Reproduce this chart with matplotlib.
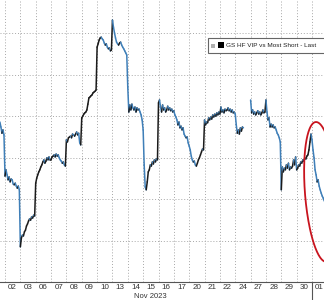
import numpy as np
import matplotlib.pyplot as plt
from matplotlib.collections import LineCollection

plt.rcParams['font.family'] = ['Liberation Sans', 'DejaVu Sans']

# trading-day labels (Nov 2023 -> Dec 1)
day_labels = ['02', '03', '06', '07', '08', '09', '10', '13', '14', '15', '16',
              '17', '20', '21', '22', '24', '27', '28', '29', '30', '01']

# GS HF VIP vs Most Short ratio, intraday samples (15 per full session)
nov01_tail = [128.6, 127.4, 125.9, 126.7, 125.5]
nov02 = [115.6, 117.1, 115.9, 114.7, 115.4, 114.2, 114.9, 114.7, 113.7, 113.5, 113.9, 113.2, 112.7, 113.2, 112.3]
nov03 = [98.6, 100.7, 101.4, 101.2, 102.2, 102.6, 103.6, 104.1, 104.8, 105.3, 105.0, 105.8, 105.5, 106.2, 106.0]
nov06 = [113.9, 115.1, 115.9, 116.6, 117.1, 117.8, 118.3, 119.0, 119.5, 118.7, 119.2, 120.0, 119.5, 120.2, 119.5]
nov07 = [119.5, 120.2, 120.4, 120.7, 120.2, 120.9, 120.4, 120.7, 120.0, 119.5, 119.2, 118.7, 119.0, 118.3, 118.0]
nov08 = [124.3, 123.8, 124.8, 125.0, 125.2, 124.8, 125.7, 125.5, 125.2, 125.7, 126.2, 125.5, 125.9, 123.6, 123.1]
nov09 = [129.6, 130.0, 130.5, 130.8, 131.0, 131.5, 132.9, 134.4, 134.6, 134.9, 135.1, 135.6, 135.8, 136.0, 136.3]
nov10 = [146.6, 147.4, 148.3, 148.8, 149.0, 148.6, 148.3, 147.6, 147.1, 147.4, 146.6, 146.2, 146.4, 145.7, 145.9]
nov13 = [153.1, 151.4, 150.0, 148.8, 147.8, 147.4, 147.1, 147.6, 147.8, 147.1, 146.6, 146.2, 145.7, 145.2, 144.7]
nov14 = [136.8, 131.0, 132.7, 131.5, 132.9, 132.0, 131.5, 132.2, 131.0, 132.0, 131.5, 131.7, 131.0, 130.3, 129.1]
nov15 = [126.7, 118.3, 113.0, 112.3, 114.2, 116.6, 117.1, 118.3, 118.0, 119.0, 118.5, 119.5, 119.0, 119.7, 119.5]
nov16 = [133.2, 133.9, 132.2, 131.0, 132.7, 131.5, 132.0, 131.0, 131.5, 132.4, 131.5, 132.0, 131.3, 131.7, 131.0]
nov17 = [131.3, 130.3, 129.8, 129.1, 127.9, 128.6, 127.2, 127.6, 126.7, 127.2, 125.7, 125.2, 124.8, 125.0, 123.6]
nov20 = [122.8, 121.9, 120.4, 119.5, 119.0, 119.2, 118.3, 118.0, 118.7, 119.5, 120.0, 120.7, 121.4, 122.1, 121.9]
nov21 = [129.1, 127.9, 128.6, 128.4, 129.6, 129.1, 129.8, 129.3, 130.3, 129.8, 130.5, 130.0, 130.8, 130.3, 131.0]
nov22 = [130.5, 132.2, 131.0, 131.5, 130.8, 131.7, 131.3, 131.5, 132.0, 131.3, 131.7, 131.0, 131.5, 130.8, 131.0]
nov24 = [130.5, 127.9, 125.9, 126.7, 125.7, 127.2, 126.4, 127.4, 127.2]  # half day
nov27 = [133.9, 130.8, 131.5, 130.5, 131.0, 130.3, 130.8, 131.3, 130.5, 131.0, 130.3, 130.8, 131.5, 130.8, 131.0]
nov28 = [133.9, 131.0, 129.1, 129.6, 127.4, 128.1, 127.4, 127.9, 127.2, 127.4, 126.7, 125.9, 125.5, 124.8, 123.8]
nov29 = [112.3, 117.8, 116.6, 117.5, 117.1, 118.3, 117.5, 118.7, 117.1, 117.8, 117.5, 118.0, 119.5, 118.3, 120.2]
nov30 = [117.1, 117.5, 118.3, 118.0, 119.0, 118.7, 119.5, 119.2, 120.0, 119.7, 120.4, 120.7, 121.9, 123.8, 125.7]
dec01 = [124.3, 121.9, 120.0, 117.1, 115.9, 114.2, 114.7, 113.2, 112.3, 111.5, 110.8, 110.3, 109.6]

sessions = [nov02, nov03, nov06, nov07, nov08, nov09, nov10, nov13, nov14, nov15, nov16,
            nov17, nov20, nov21, nov22, nov24, nov27, nov28, nov29, nov30, dec01]

step = 1 / 15
xs = [(i - len(nov01_tail)) * step for i in range(len(nov01_tail))]
ys = list(nov01_tail)
breaks = []
for k, s in enumerate(sessions):
    if k == 16:  # no line across the Thanksgiving half-day gap
        breaks.append(len(xs) - 1)
    xs += [k + i * step for i in range(len(s))]
    ys += s
xs = np.array(xs)
ys = np.array(ys)

segs, cols = [], []
for i in range(len(xs) - 1):
    if i in breaks:
        continue
    segs.append([(xs[i], ys[i]), (xs[i + 1], ys[i + 1])])
    cols.append('#1b1b1b' if ys[i + 1] >= ys[i] else '#3f7fb8')

fig = plt.figure(figsize=(3.24, 3.0), dpi=100)
ax = fig.add_axes([0, 18 / 300, 1, 282 / 300])

ax.add_collection(LineCollection(segs, colors=cols, linewidths=1.1, capstyle='round'))

ax.set_xlim(-5 / 15.35, 319 / 15.35)
ax.set_ylim(90.14, 157.93)

ax.set_yticks([100, 110, 120, 130, 140, 150])
ax.set_xticks(np.arange(21), minor=True)
ax.set_xticks(np.arange(21) + 0.5)
ax.set_xticklabels(day_labels)
ax.tick_params(axis='x', which='both', length=0, pad=1.5, labelsize=5.8, colors='#333333')
ax.tick_params(axis='y', length=0, labelleft=False)
ax.grid(which='minor', axis='x', ls=(0, (1, 2)), color='#a8a8a8', lw=0.7)
ax.grid(which='major', axis='y', ls=(0, (1, 2)), color='#a8a8a8', lw=0.7)
ax.grid(which='major', axis='x', visible=False)
for sp in ['left', 'right', 'top']:
    ax.spines[sp].set_visible(False)
ax.spines['bottom'].set_color('#555555')
ax.spines['bottom'].set_linewidth(0.8)

# month separator below axis
ax.axvline(20, ymin=-0.07, ymax=0, clip_on=False, color='#555555', lw=0.8)
fig.text(150 / 324, 1 - 296.5 / 300, 'Nov 2023', ha='center', va='center',
         fontsize=5.5, color='#333333')

# red highlight ellipse
th = np.linspace(0, 2 * np.pi, 200)
ex = 20.59 + 1.055 * np.cos(th) - 0.326 * np.sin(th)
ey = 111.8 + 16.8 * np.sin(th)
ax.plot(ex, ey, color='#c8141e', lw=1.3, clip_on=True)

# legend box (runs off the right edge, as in the source)
fig.patches.append(plt.Rectangle((208 / 324, 1 - 53 / 300), 130 / 324, 15 / 300,
                                 transform=fig.transFigure, fc='white', ec='#666666', lw=0.8))
fig.patches.append(plt.Rectangle((211 / 324, 1 - 48 / 300), 4 / 324, 4 / 300,
                                 transform=fig.transFigure, fc='#b0b0b0', ec='none'))
fig.patches.append(plt.Rectangle((218 / 324, 1 - 48 / 300), 6 / 324, 6 / 300,
                                 transform=fig.transFigure, fc='black', ec='none'))
fig.text(226 / 324, 1 - 45.5 / 300, 'GS HF VIP vs Most Short - Last', ha='left',
         va='center', fontsize=4.6, color='#222222')

fig.savefig('out.png', dpi=100)
